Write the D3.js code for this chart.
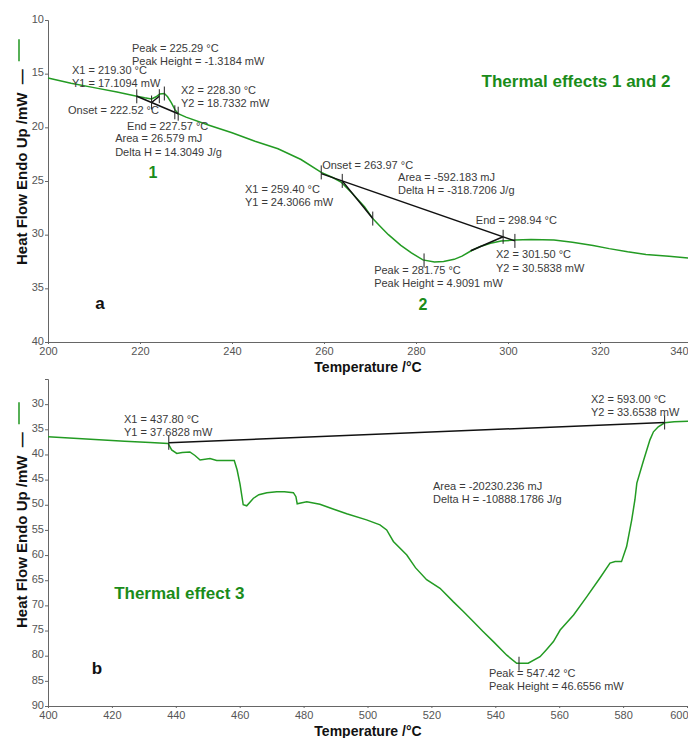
<!DOCTYPE html>
<html>
<head>
<meta charset="utf-8">
<script src="https://cdn.jsdelivr.net/npm/d3@7"></script>
<style>
    body { margin: 0; background: #fff; font-family: Arial, "Liberation Sans", sans-serif; }
    svg { display: block; }
    .tick text { fill: #555; font-size: 11px; font-family: Arial, "Liberation Sans", sans-serif; }
    .domain, .tick line { stroke: #666; }
    .nota { fill: #3a3a3a; font-size: 11px; }
    .titulo { fill: #111; font-size: 14px; font-weight: bold; }
    .verde { fill: #1a8c1a; font-weight: bold; }
</style>
</head>
<body>
<svg id="grafico"></svg>
<script>
// ---- panel a : 200-340 °C ----
const tempA = [200, 205, 210, 215, 219.3, 221, 222.5, 223.5, 224.3, 225.3, 226, 226.8, 227.6, 228.3, 230, 235, 240, 245, 250, 255, 259.4, 262, 263.7, 266, 268.8, 270.6, 272.4, 274, 276.7, 279, 281.5, 284, 286, 288.3, 290, 292, 294, 296.2, 298.5, 301.5, 305, 310, 314, 318.5, 322, 326, 330, 335, 340];
const flujoA = [15.4, 15.9, 16.3, 16.7, 17.1, 17.25, 17.35, 17.15, 16.9, 16.85, 17.15, 17.7, 18.35, 18.73, 19.05, 19.8, 20.5, 21.3, 22.0, 23.0, 24.2, 24.7, 25.1, 26.1, 27.4, 28.5, 29.3, 30.0, 31.0, 31.7, 32.35, 32.55, 32.5, 32.3, 32.0, 31.5, 31.1, 30.8, 30.6, 30.5, 30.45, 30.5, 30.7, 31.0, 31.3, 31.6, 31.85, 32.0, 32.2];
const ticksXA = [200, 220, 240, 260, 280, 300, 320, 340];
const ticksYA = [10, 15, 20, 25, 30, 35, 40];

// lineas negras (base y tangentes) [T1, V1, T2, V2]
const lineasA = [
    [219.3, 17.11, 228.3, 18.73],
    [222.52, 17.69, 224.2, 17.1],
    [259.4, 24.31, 301.5, 30.58],
    [263.97, 24.99, 270.6, 28.5],
    [298.94, 30.2, 291.9, 31.5]
];
// marcas verticales [T, V]
const marcasA = [[219.3, 17.11], [222.52, 17.69], [224.2, 17.1], [225.29, 16.85], [227.57, 18.6], [228.3, 18.73],
                 [259.4, 24.2], [263.97, 24.99], [270.6, 28.5], [281.75, 32.4], [298.94, 30.2], [301.5, 30.58]];
// textos [texto, T, V]
const notasA = [
    ["Peak = 225.29 °C", 218.26, 12.61],
    ["Peak Height = -1.3184 mW", 218.26, 13.82],
    ["X1 = 219.30 °C", 205.2, 14.66],
    ["Y1 = 17.1094 mW", 205.2, 15.87],
    ["X2 = 228.30 °C", 228.9, 16.52],
    ["Y2 = 18.7332 mW", 228.9, 17.73],
    ["Onset = 222.52 °C", 204.35, 18.39],
    ["End = 227.57 °C", 217.2, 19.88],
    ["Area = 26.579 mJ", 214.6, 21.0],
    ["Delta H = 14.3049 J/g", 214.6, 22.3],
    ["Onset = 263.97 °C", 259.6, 23.5],
    ["Area = -592.183 mJ", 276.1, 24.63],
    ["Delta H = -318.7206 J/g", 276.1, 25.84],
    ["X1 = 259.40 °C", 242.8, 25.75],
    ["Y1 = 24.3066 mW", 242.8, 26.96],
    ["Peak = 281.75 °C", 270.9, 33.29],
    ["Peak Height = 4.9091 mW", 270.9, 34.5],
    ["End = 298.94 °C", 293.0, 28.63],
    ["X2 = 301.50 °C", 297.4, 31.8],
    ["Y2 = 30.5838 mW", 297.4, 33.1]
];
// textos verdes / letra [texto, T, V, tamaño, ancla, verde]
const etiquetasA = [
    ["1", 222.8, 24.16, 16, "middle", true],
    ["2", 281.5, 36.46, 16, "middle", true],
    ["Thermal effects 1 and 2", 314.8, 15.68, 17, "middle", true],
    ["a", 211.3, 36.37, 17, "middle", false]
];

// ---- panel b : 400-600 °C ----
const tempB = [400, 408, 416, 424, 432, 437.6, 438.7, 440.3, 442, 444.4, 446, 447.6, 450.7, 452.8, 455, 458.3, 459.2, 460.1, 461.1, 462.2, 464.3, 466, 468.5, 471.6, 474, 476.8, 477.6, 478.0, 479.5, 481, 485.1, 489, 493.5, 499.7, 503.9, 506, 508.1, 512.3, 515, 518.5, 522.7, 526.9, 530, 533.1, 536, 539.4, 543.6, 546.7, 550.3, 554, 556, 558.2, 560.3, 564.5, 568.6, 572.8, 575.9, 577.5, 579.5, 581.1, 582.7, 583.7, 584.3, 586.3, 588.4, 589.5, 591, 593, 596, 600.4];
const flujoB = [36.5, 36.8, 37.1, 37.35, 37.6, 37.8, 39.1, 39.8, 39.6, 39.5, 40.2, 41.1, 40.8, 41.2, 41.2, 41.2, 43.1, 45.9, 50.0, 50.2, 48.7, 48.0, 47.6, 47.4, 47.4, 47.6, 48.4, 49.8, 49.6, 49.4, 49.9, 50.8, 51.8, 53.0, 54.0, 55.0, 57.3, 60.0, 62.5, 64.9, 66.6, 69.3, 71.2, 73.2, 75.1, 77.2, 79.9, 81.5, 81.5, 80.2, 78.8, 77.2, 74.9, 71.9, 68.3, 64.5, 61.6, 61.3, 61.3, 58.3, 53.0, 49.0, 45.7, 41.4, 37.1, 35.5, 34.5, 33.7, 33.5, 33.4];
const ticksXB = [400, 420, 440, 460, 480, 500, 520, 540, 560, 580, 600];
const ticksYB = [30, 35, 40, 45, 50, 55, 60, 65, 70, 75, 80, 85, 90];

const lineasB = [[437.8, 37.68, 593.0, 33.65]];
const marcasB = [[437.8, 37.68], [593.0, 33.65], [547.42, 81.6]];
const notasB = [
    ["X1 = 437.80 °C", 423.8, 32.95],
    ["Y1 = 37.6828 mW", 423.8, 35.54],
    ["X2 = 593.00 °C", 569.95, 28.98],
    ["Y2 = 33.6538 mW", 569.95, 31.56],
    ["Area = -20230.236 mJ", 520.5, 46.27],
    ["Delta H = -10888.1786 J/g", 520.5, 48.86],
    ["Peak = 547.42 °C", 538.0, 83.45],
    ["Peak Height = 46.6556 mW", 538.0, 86.03]
];
const etiquetasB = [
    ["Thermal effect 3", 420.7, 67.5, 17, "start", true],
    ["b", 415.3, 82.5, 17, "middle", false]
];

const ancho = 688, alto = 738;
const svg = d3.select("#grafico").attr("width", ancho).attr("height", alto);

function dibujarPanel(cfg) {
    const x = d3.scaleLinear().domain(cfg.dominioX).range(cfg.rangoX);
    const y = d3.scaleLinear().domain(cfg.dominioY).range(cfg.rangoY);
    const g = svg.append("g");

    // ejes
    const ejeX = g.append("g")
        .attr("transform", `translate(0,${cfg.rangoY[1]})`)
        .call(d3.axisBottom(x).tickValues(cfg.ticksX).tickSize(2).tickPadding(3).tickFormat(d3.format("d")));
    // la ultima etiqueta queda pegada al borde
    ejeX.selectAll(".tick text").filter(d => d === cfg.ticksX[cfg.ticksX.length - 1])
        .attr("text-anchor", "end")
        .attr("x", d => ancho - x(d));

    g.append("g")
        .attr("transform", `translate(${cfg.rangoX[0]},0)`)
        .call(d3.axisLeft(y).tickValues(cfg.ticksY).tickSize(3).tickPadding(1).tickFormat(d3.format("d")))
        .selectAll(".tick text").attr("dy", "0.2em");

    // titulos
    g.append("text").attr("class", "titulo")
        .attr("x", 368).attr("y", cfg.rangoY[1] + 30)
        .attr("text-anchor", "middle")
        .text("Temperature /°C");

    const tituloY = g.append("text").attr("class", "titulo")
        .attr("transform", `translate(27,${cfg.baseTituloY}) rotate(-90)`)
        .attr("text-anchor", "start")
        .attr("xml:space", "preserve")
        .style("font-size", "15px")
        .text("Heat Flow Endo Up /mW  —");
    const largo = tituloY.node().getComputedTextLength();
    const arriba = cfg.baseTituloY - largo;
    g.append("line")
        .attr("x1", 19).attr("x2", 19)
        .attr("y1", arriba - 30).attr("y2", arriba - 8)
        .attr("stroke", "#1f961f").attr("stroke-width", 1.5);

    // curva
    const linea = d3.line().x(d => x(d[0])).y(d => y(d[1]));
    g.append("path")
        .datum(cfg.temp.map((t, i) => [t, cfg.flujo[i]]))
        .attr("d", linea)
        .attr("fill", "none")
        .attr("stroke", "#239b23")
        .attr("stroke-width", 1.5);

    // base y tangentes
    g.selectAll(".base").data(cfg.lineas).enter().append("line")
        .attr("x1", d => x(d[0])).attr("y1", d => y(d[1]))
        .attr("x2", d => x(d[2])).attr("y2", d => y(d[3]))
        .attr("stroke", "#111").attr("stroke-width", 1.5);

    g.selectAll(".marca").data(cfg.marcas).enter().append("line")
        .attr("x1", d => x(d[0])).attr("x2", d => x(d[0]))
        .attr("y1", d => y(d[1]) - 7).attr("y2", d => y(d[1]) + 7)
        .attr("stroke", "#222").attr("stroke-width", 1);

    g.selectAll(".nota").data(cfg.notas).enter().append("text")
        .attr("class", "nota")
        .attr("x", d => x(d[1])).attr("y", d => y(d[2]))
        .attr("dy", "0.35em")
        .text(d => d[0]);

    g.selectAll(".etiqueta").data(cfg.etiquetas).enter().append("text")
        .attr("class", d => d[5] ? "verde" : "titulo")
        .attr("x", d => x(d[1])).attr("y", d => y(d[2]))
        .attr("dy", "0.35em")
        .attr("text-anchor", d => d[4])
        .style("font-size", d => d[3] + "px")
        .style("font-weight", "bold")
        .text(d => d[0]);
}

dibujarPanel({
    dominioX: [200, 340], rangoX: [48, 692],
    dominioY: [10, 40], rangoY: [20, 342],
    ticksX: ticksXA, ticksY: ticksYA,
    temp: tempA, flujo: flujoA,
    lineas: lineasA, marcas: marcasA, notas: notasA, etiquetas: etiquetasA,
    baseTituloY: 265
});

dibujarPanel({
    dominioX: [400, 600], rangoX: [48, 687],
    dominioY: [25, 90], rangoY: [379, 706],
    ticksX: ticksXB, ticksY: ticksYB,
    temp: tempB, flujo: flujoB,
    lineas: lineasB, marcas: marcasB, notas: notasB, etiquetas: etiquetasB,
    baseTituloY: 628
});
</script>
</body>
</html>
